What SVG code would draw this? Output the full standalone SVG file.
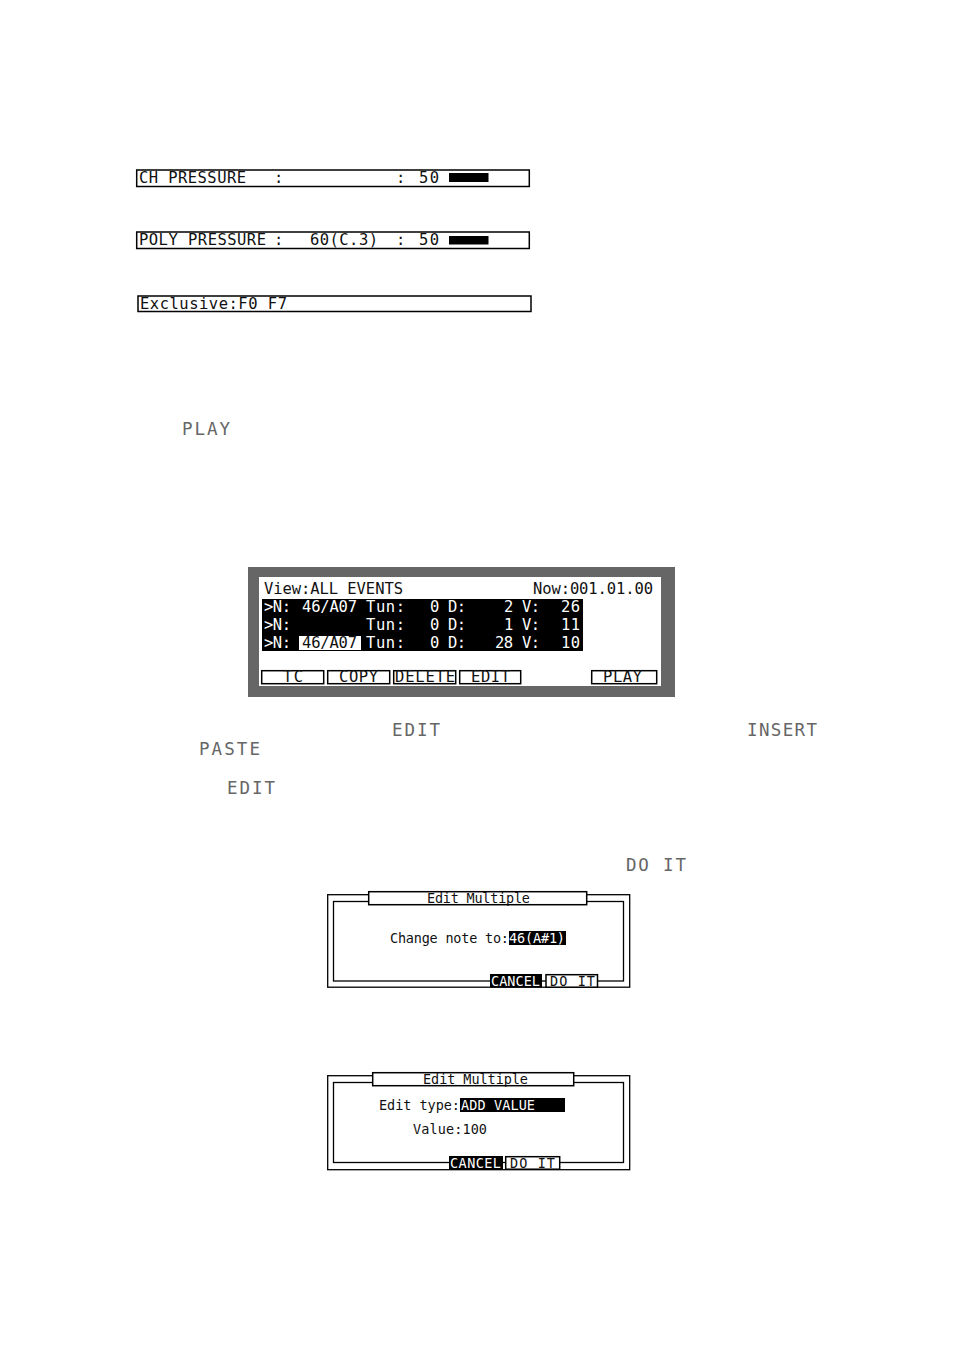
<svg xmlns="http://www.w3.org/2000/svg" width="954" height="1351" viewBox="0 0 954 1351">
<style>
text{font-family:"DejaVu Sans Mono","Liberation Mono",monospace;font-size:15.5px;fill:#111}
.s{font-size:13.5px}
.w{fill:#fff}
.l{fill:#666;font-size:17.5px}
.b{fill:#fff;stroke:#000;stroke-width:1.5}
.k{fill:#000}
.d{fill:none;stroke:#000;stroke-width:1.3}
</style>
<rect width="954" height="1351" fill="#fff"/>
<g id="ch-pressure">
<rect class="b" x="136.700" y="170" width="392.600" height="16.500"/>
<rect class="k" x="449" y="173" width="39.500" height="9"/>
<text x="139" y="183" textLength="107">CH PRESSURE</text>
<text x="274" y="183" textLength="9">:</text>
<text x="396" y="183" textLength="9">:</text>
<text x="419" y="183" textLength="20">50</text>
</g>
<g id="poly-pressure">
<rect class="b" x="136.700" y="232" width="392.600" height="16.500"/>
<rect class="k" x="449" y="236" width="39.500" height="8.500"/>
<text x="139" y="245" textLength="127">POLY PRESSURE</text>
<text x="274" y="245" textLength="9">:</text>
<text x="310" y="245" textLength="68">60(C.3)</text>
<text x="396" y="245" textLength="9">:</text>
<text x="419" y="245" textLength="20">50</text>
</g>
<g id="exclusive">
<rect class="b" x="138" y="296" width="393" height="15.500"/>
<text x="140" y="308.500" textLength="147">Exclusive:F0 F7</text>
</g>
<g id="labels">
<text class="l" x="182" y="434.500" textLength="48">PLAY</text>
<text class="l" x="392" y="735.500" textLength="48">EDIT</text>
<text class="l" x="747" y="735.500" textLength="70">INSERT</text>
<text class="l" x="199" y="754.500" textLength="61">PASTE</text>
<text class="l" x="227" y="793.500" textLength="48">EDIT</text>
<text class="l" x="626" y="870.500" textLength="60">DO IT</text>
</g>
<g id="event-screen">
<rect x="248" y="567" width="427" height="130" fill="#666"/>
<rect x="259" y="577" width="402" height="109" fill="#fff"/>
<text x="264" y="594" textLength="139">View:ALL EVENTS</text>
<text x="533" y="594" textLength="120">Now:001.01.00</text>
<rect class="k" x="262" y="599" width="321" height="52"/>
<rect x="299" y="636" width="62" height="14" fill="#fff"/>
<g>
<text class="w" x="264" y="612" textLength="27">&gt;N:</text><text class="w" x="302" y="612" textLength="55">46/A07</text><text class="w" x="366" y="612" textLength="39">Tun:</text><text class="w" x="430" y="612" textLength="9">0</text><text class="w" x="448" y="612" textLength="18">D:</text><text class="w" x="504" y="612" textLength="9">2</text><text class="w" x="522" y="612" textLength="18">V:</text><text class="w" x="561" y="612" textLength="19">26</text>
<text class="w" x="264" y="630" textLength="27">&gt;N:</text><text class="w" x="366" y="630" textLength="39">Tun:</text><text class="w" x="430" y="630" textLength="9">0</text><text class="w" x="448" y="630" textLength="18">D:</text><text class="w" x="504" y="630" textLength="9">1</text><text class="w" x="522" y="630" textLength="18">V:</text><text class="w" x="561" y="630" textLength="19">11</text>
<text class="w" x="264" y="648" textLength="27">&gt;N:</text><text x="302" y="648" textLength="55">46/A07</text><text class="w" x="366" y="648" textLength="39">Tun:</text><text class="w" x="430" y="648" textLength="9">0</text><text class="w" x="448" y="648" textLength="18">D:</text><text class="w" x="495" y="648" textLength="18">28</text><text class="w" x="522" y="648" textLength="18">V:</text><text class="w" x="561" y="648" textLength="19">10</text>
</g>
<rect class="b" x="261.700" y="670.700" width="62" height="13"/>
<rect class="b" x="327.700" y="670.700" width="62" height="13"/>
<rect class="b" x="393.700" y="670.700" width="62" height="13"/>
<rect class="b" x="459.700" y="670.700" width="61" height="13"/>
<rect class="b" x="591.700" y="670.700" width="65" height="13"/>
<text x="283" y="682" textLength="20">TC</text>
<text x="339" y="682" textLength="39">COPY</text>
<text x="395" y="682" textLength="60">DELETE</text>
<text x="471" y="682" textLength="39">EDIT</text>
<text x="603" y="682" textLength="39">PLAY</text>
</g>
<g id="dialog-change-note">
<rect class="d" x="327.700" y="894.700" width="302" height="92.500"/>
<rect class="d" x="333.500" y="901.500" width="290" height="79.500"/>
<rect class="b" x="368.700" y="891.700" width="218" height="13"/>
<text class="s" x="427" y="903" textLength="103">Edit Multiple</text>
<text class="s" x="390" y="943" textLength="119">Change note to:</text>
<rect class="k" x="509" y="931" width="57" height="14"/>
<text class="s w" x="509" y="943" textLength="56">46(A#1)</text>
<rect class="k" x="490" y="974" width="52" height="13.500"/>
<rect class="b" x="546" y="974.700" width="51.500" height="12.500"/>
<text class="s w" x="491" y="986" textLength="49">CANCEL</text>
<text class="s" x="550" y="986" textLength="45">DO IT</text>
</g>
<g id="dialog-add-value">
<rect class="d" x="327.700" y="1075.700" width="302" height="94"/>
<rect class="d" x="333.500" y="1082.500" width="290" height="80"/>
<rect class="b" x="372.700" y="1072.700" width="201" height="13"/>
<text class="s" x="423" y="1084" textLength="105">Edit Multiple</text>
<text class="s" x="379" y="1110" textLength="81">Edit type:</text>
<rect class="k" x="460" y="1098" width="105" height="14"/>
<text class="s w" x="461" y="1110" textLength="74">ADD VALUE</text>
<text class="s" x="413" y="1134" textLength="74">Value:100</text>
<rect class="k" x="449" y="1156" width="54" height="14"/>
<rect class="b" x="505.700" y="1156.700" width="54" height="12.500"/>
<text class="s w" x="450" y="1168" textLength="51">CANCEL</text>
<text class="s" x="510" y="1168" textLength="45">DO IT</text>
</g>
</svg>
